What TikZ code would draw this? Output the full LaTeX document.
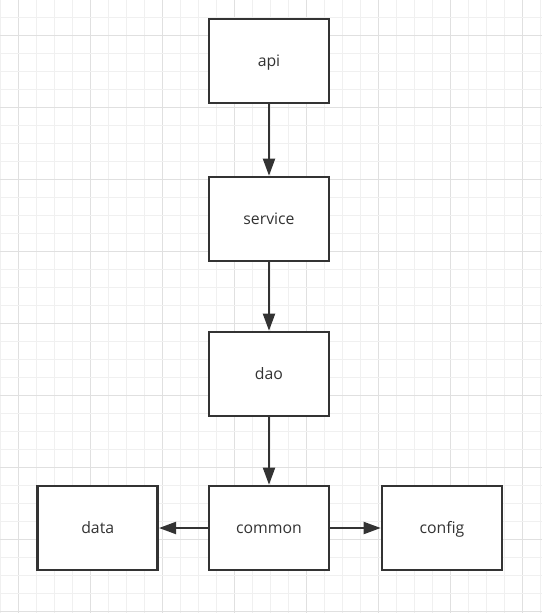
\documentclass[tikz,border=0pt]{standalone}
\usepackage{fontspec}
\setmainfont{Open Sans}
\usetikzlibrary{arrows.meta}
\definecolor{ink}{HTML}{333333}
\definecolor{gridminor}{HTML}{F0F0F0}
\definecolor{gridmajor}{HTML}{E0E0E0}
\tikzset{
  box/.style={draw=ink, line width=2.6pt, fill=white, minimum width=120pt, minimum height=84pt, inner sep=0pt, text=ink, text height=12pt, text depth=0.5pt, font=\fontsize{15.8}{18}\selectfont},
  arr/.style={draw=ink, line width=2pt, -{Triangle[length=17pt,width=12pt]}},
}
\begin{document}
\begin{tikzpicture}[x=1pt,y=-1pt]
\useasboundingbox (0,0) rectangle (542,613);
\fill[white] (0,0) rectangle (542,613);
% grid
\foreach \k in {0,...,30} {
  \pgfmathsetmacro{\xx}{0.3+18*\k}
  \pgfmathtruncatemacro{\m}{mod(\k,4)}
  \ifnum\m=1
    \draw[gridmajor, line width=1pt] (\xx,0) -- (\xx,613);
  \else
    \draw[gridminor, line width=1pt] (\xx,0) -- (\xx,613);
  \fi
}
\foreach \k in {-1,...,33} {
  \pgfmathsetmacro{\yy}{17.3+18*\k}
  \pgfmathtruncatemacro{\m}{mod(\k+4,4)}
  \ifnum\m=1
    \draw[gridmajor, line width=1pt] (0,\yy) -- (542,\yy);
  \else
    \draw[gridminor, line width=1pt] (0,\yy) -- (542,\yy);
  \fi
}
% boxes
\node[box] (api) at (269,61) {api};
\node[box] (service) at (269,219) {service};
\node[box] (dao) at (269,374) {dao};
\node[box] (common) at (269,528) {common};
\node[box] (data) at (97.7,528) {data};
\node[box] (config) at (442,528) {config};
% connectors
\draw[arr] (api) -- (service);
\draw[arr] (service) -- (dao);
\draw[arr] (dao) -- (common);
\draw[arr] (common) -- (data);
\draw[arr] (common) -- (config);
\end{tikzpicture}
\end{document}
